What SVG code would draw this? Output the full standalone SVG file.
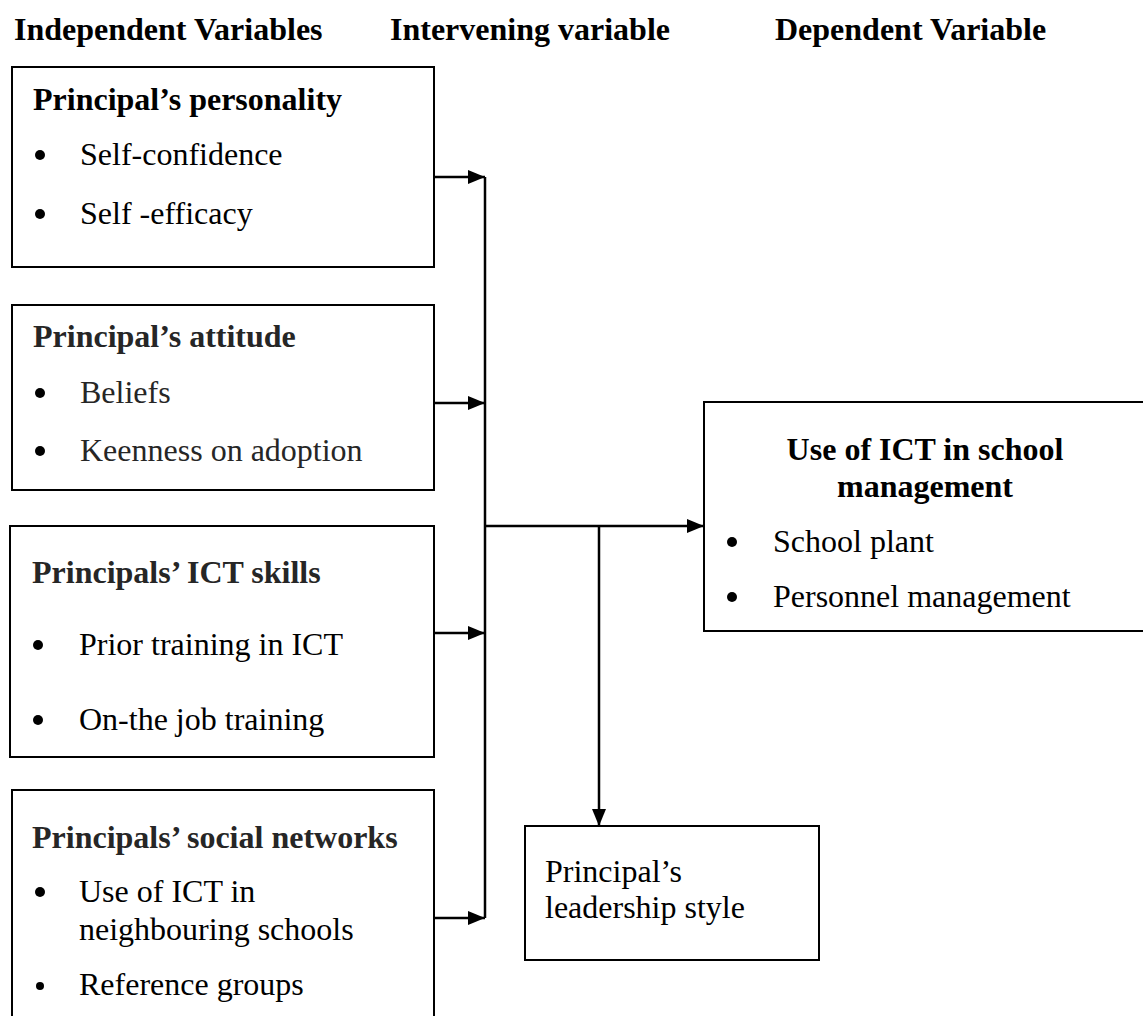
<svg xmlns="http://www.w3.org/2000/svg" width="1143" height="1016" viewBox="0 0 1143 1016">
<style>
text{font-family:"Liberation Serif","Times New Roman",serif;font-size:32px;fill:#000}
.b{font-weight:bold}
.g{fill:#262626}
.box{fill:#fff;stroke:#000;stroke-width:2}
.ln{fill:none;stroke:#000;stroke-width:2.5}
.dot{fill:#000}
</style>
<defs>
<marker id="ah" viewBox="0 0 17 14" refX="17" refY="7" markerWidth="17" markerHeight="14" markerUnits="userSpaceOnUse" orient="auto">
<path d="M0,0 L17,7 L0,14 z" fill="#000"/>
</marker>
</defs>
<rect width="1143" height="1016" fill="#fff"/>
<g id="headers">
<text class="b" x="14" y="40">Independent Variables</text>
<text class="b" x="390" y="40">Intervening variable</text>
<text class="b" x="775" y="40">Dependent Variable</text>
</g>
<g id="personality">
<rect class="box" x="12" y="67" width="422" height="200"/>
<text class="b" x="33" y="110">Principal’s personality</text>
<circle class="dot" cx="40" cy="155" r="5"/>
<text x="80" y="165">Self-confidence</text>
<circle class="dot" cx="40" cy="214" r="5"/>
<text x="80" y="224">Self -efficacy</text>
</g>
<g id="attitude">
<rect class="box" x="12" y="305" width="422" height="185"/>
<text class="b g" x="33" y="347">Principal’s attitude</text>
<circle class="dot g" cx="40" cy="393" r="5"/>
<text class="g" x="80" y="403">Beliefs</text>
<circle class="dot g" cx="40" cy="451" r="5"/>
<text class="g" x="80" y="461">Keenness on adoption</text>
</g>
<g id="skills">
<rect class="box" x="10" y="526" width="424" height="231"/>
<text class="b g" x="32" y="583">Principals’ ICT skills</text>
<circle class="dot" cx="38" cy="645" r="5"/>
<text x="79" y="655">Prior training in ICT</text>
<circle class="dot" cx="38" cy="720" r="5"/>
<text x="79" y="730">On-the job training</text>
</g>
<g id="networks">
<rect class="box" x="12" y="790" width="422" height="240"/>
<text class="b g" x="32" y="848">Principals’ social networks</text>
<circle class="dot" cx="40" cy="892" r="5"/>
<text x="79" y="902">Use of ICT in</text>
<text x="79" y="940">neighbouring schools</text>
<circle class="dot" cx="40" cy="986" r="4"/>
<text x="79" y="995">Reference groups</text>
</g>
<g id="use-ict">
<rect class="box" x="704" y="402" width="460" height="229"/>
<text class="b" x="925" y="460" text-anchor="middle">Use of ICT in school</text>
<text class="b" x="925" y="497" text-anchor="middle">management</text>
<circle class="dot" cx="732" cy="542" r="5"/>
<text x="773" y="552">School plant</text>
<circle class="dot" cx="732" cy="597" r="5"/>
<text x="773" y="607">Personnel management</text>
</g>
<g id="leadership">
<rect class="box" x="525" y="826" width="294" height="134"/>
<text x="545" y="882">Principal’s</text>
<text x="545" y="918">leadership style</text>
</g>
<g id="connectors">
<line class="ln" x1="485" y1="177" x2="485" y2="918"/>
<line class="ln" x1="434" y1="177" x2="485" y2="177" marker-end="url(#ah)"/>
<line class="ln" x1="434" y1="403" x2="485" y2="403" marker-end="url(#ah)"/>
<line class="ln" x1="434" y1="633" x2="485" y2="633" marker-end="url(#ah)"/>
<line class="ln" x1="434" y1="918" x2="485" y2="918" marker-end="url(#ah)"/>
<line class="ln" x1="485" y1="526" x2="704" y2="526" marker-end="url(#ah)"/>
<line class="ln" x1="599" y1="526" x2="599" y2="826" marker-end="url(#ah)"/>
</g>
</svg>
